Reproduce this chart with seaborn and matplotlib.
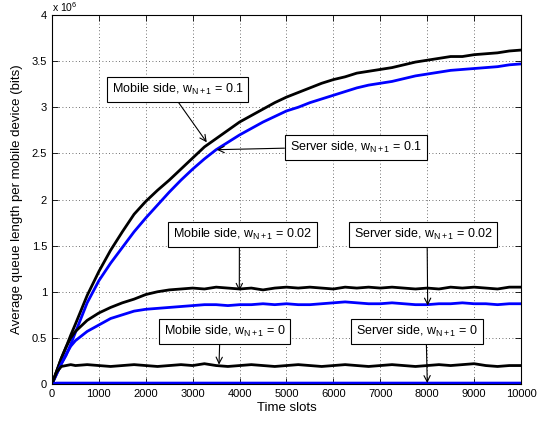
import numpy as np
import pandas as pd
import seaborn as sns
import matplotlib.pyplot as plt

sns.set_theme(style="ticks")
plt.rcParams['font.family'] = ['Liberation Sans', 'DejaVu Sans']
plt.rcParams['mathtext.fontset'] = 'custom'
plt.rcParams['mathtext.rm'] = 'Liberation Sans'
plt.rcParams['mathtext.it'] = 'Liberation Sans:italic'
plt.rcParams['mathtext.default'] = 'regular'
plt.rcParams['text.color'] = 'black'
plt.rcParams['axes.labelcolor'] = 'black'

# time slots
t = [0, 100, 200, 300, 400, 500, 750, 1000, 1250, 1500, 1750, 2000, 2250, 2500,
     2750, 3000, 3250, 3500, 3750, 4000, 4250, 4500, 4750, 5000, 5250, 5500,
     5750, 6000, 6250, 6500, 6750, 7000, 7250, 7500, 7750, 8000, 8250, 8500,
     8750, 9000, 9250, 9500, 9750, 10000]

# queue length (x 10^6 bits)
mobile_01 = [0, 0.14, 0.28, 0.40, 0.53, 0.65, 0.96, 1.22, 1.45, 1.65, 1.84, 1.98,
             2.10, 2.21, 2.33, 2.45, 2.57, 2.66, 2.75, 2.84, 2.91, 2.98, 3.05,
             3.11, 3.16, 3.21, 3.26, 3.30, 3.33, 3.37, 3.39, 3.41, 3.43, 3.46,
             3.49, 3.51, 3.53, 3.55, 3.55, 3.57, 3.58, 3.59, 3.61, 3.62]
server_01 = [0, 0.11, 0.22, 0.31, 0.43, 0.56, 0.88, 1.12, 1.31, 1.48, 1.65, 1.80,
             1.94, 2.08, 2.21, 2.33, 2.44, 2.54, 2.62, 2.70, 2.77, 2.84, 2.90,
             2.96, 3.00, 3.05, 3.09, 3.13, 3.17, 3.21, 3.24, 3.26, 3.28, 3.31,
             3.34, 3.36, 3.38, 3.40, 3.41, 3.42, 3.43, 3.44, 3.46, 3.47]
mobile_002 = [0, 0.14, 0.28, 0.40, 0.50, 0.57, 0.69, 0.77, 0.83, 0.88, 0.92, 0.97,
              1.00, 1.02, 1.03, 1.04, 1.03, 1.05, 1.04, 1.03, 1.04, 1.02, 1.04,
              1.05, 1.04, 1.05, 1.04, 1.03, 1.05, 1.04, 1.05, 1.04, 1.05, 1.04,
              1.03, 1.04, 1.03, 1.05, 1.04, 1.05, 1.04, 1.03, 1.05, 1.05]
server_002 = [0, 0.11, 0.22, 0.32, 0.41, 0.47, 0.57, 0.64, 0.71, 0.75, 0.79, 0.81,
              0.82, 0.83, 0.84, 0.85, 0.86, 0.86, 0.85, 0.86, 0.86, 0.87, 0.86,
              0.87, 0.86, 0.86, 0.87, 0.88, 0.89, 0.88, 0.87, 0.87, 0.88, 0.87,
              0.86, 0.86, 0.87, 0.87, 0.88, 0.87, 0.87, 0.86, 0.87, 0.87]
mobile_0 = [0, 0.13, 0.19, 0.20, 0.21, 0.20, 0.21, 0.20, 0.19, 0.20, 0.21, 0.20,
            0.19, 0.20, 0.21, 0.20, 0.22, 0.20, 0.19, 0.20, 0.21, 0.20, 0.19,
            0.20, 0.21, 0.20, 0.19, 0.20, 0.21, 0.20, 0.19, 0.20, 0.21, 0.20,
            0.19, 0.20, 0.21, 0.20, 0.21, 0.22, 0.20, 0.19, 0.20, 0.20]
server_0 = [0.0] + [0.01] * 43

series = {
    "mobile_01": mobile_01, "server_01": server_01,
    "mobile_002": mobile_002, "server_002": server_002,
    "mobile_0": mobile_0, "server_0": server_0,
}
df = pd.concat([pd.DataFrame({"t": t, "q": v, "s": k}) for k, v in series.items()])
pal = {k: ("black" if k.startswith("mobile") else "blue") for k in series}

fig = plt.figure(figsize=(5.41, 4.23), dpi=100)
ax = fig.add_axes([0.0961, 0.0922, 0.8669, 0.8723])

sns.lineplot(data=df, x="t", y="q", hue="s", palette=pal, estimator=None,
             legend=False, lw=2, ax=ax)

ax.set_xlim(0, 10000)
ax.set_ylim(0, 4)
ax.set_xticks(np.arange(0, 10001, 1000))
ax.set_yticks(np.arange(0, 4.01, 0.5))
ax.set_yticklabels(["0", "0.5", "1", "1.5", "2", "2.5", "3", "3.5", "4"])
ax.tick_params(direction="in", length=4, width=0.6, labelsize=8, top=True, right=True,
               colors="black")
for sp in ax.spines.values():
    sp.set_linewidth(0.8)
    sp.set_color("black")
ax.grid(True, color="0.25", linestyle=(0, (1, 3)), linewidth=0.6)
ax.set_xlabel("Time slots", fontsize=9.5, labelpad=2)
ax.set_ylabel("Average queue length per mobile device (bits)", fontsize=9.5, labelpad=6)
ax.text(0.0, 1.004, r"x 10$^6$", transform=ax.transAxes, fontsize=7.5,
        ha="left", va="bottom")

box = dict(boxstyle="square,pad=0.4", fc="white", ec="black", lw=0.8)
notes = [
    (r"Mobile side, w$_{N+1}$ = 0.1", (3300, 2.62), (2676, 3.19), (0.48, 0)),
    (r"Server side, w$_{N+1}$ = 0.1", (3512, 2.54), (6478, 2.566), (0, 0.45)),
    (r"Mobile side, w$_{N+1}$ = 0.02", (3994, 1.01), (4055, 1.62), (0.48, 0)),
    (r"Server side, w$_{N+1}$ = 0.02", (8011, 0.85), (7910, 1.62), (0.53, 0)),
    (r"Mobile side, w$_{N+1}$ = 0", (3561, 0.21), (3682, 0.572), (0.46, 0)),
    (r"Server side, w$_{N+1}$ = 0", (8002, 0.01), (7786, 0.572), (0.575, 0)),
]
for txt, xy, xyt, rp in notes:
    ax.annotate(txt, xy=xy, xytext=xyt, ha="center", va="center", fontsize=9,
                bbox=box,
                arrowprops=dict(arrowstyle="->,head_length=0.5,head_width=0.25",
                                color="black", lw=0.8, relpos=rp,
                                shrinkA=0, shrinkB=0))

fig.savefig("out.png", dpi=100)
